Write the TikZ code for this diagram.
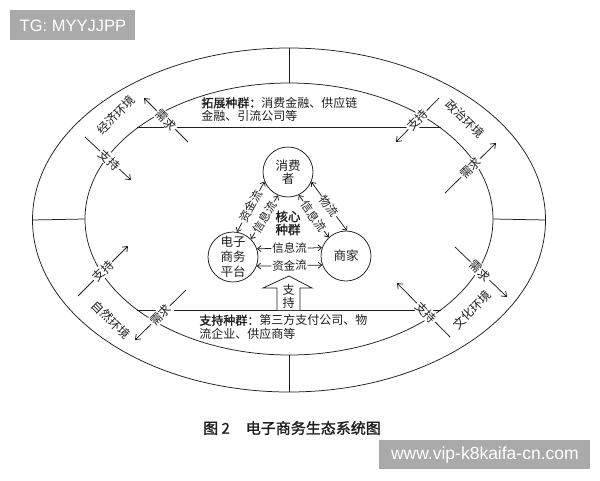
\documentclass[tikz,border=0pt]{standalone}
\usepackage{fontspec}
\setmainfont{Liberation Sans}
\newfontfamily\cjk[AutoFakeBold=1.5]{Noto Sans CJK SC}
\usetikzlibrary{arrows.meta,shapes.geometric}
\definecolor{wmgray}{RGB}{170,170,170}
\definecolor{ink}{RGB}{30,30,30}
\begin{document}
\begin{tikzpicture}[x=1pt,y=-1pt, line width=0.75pt, draw=ink, text=ink,
  every node/.style={font=\cjk\fontsize{12}{13.5}\selectfont, inner sep=0pt},
  ring/.style={draw, ellipse, inner sep=0pt},
  actor/.style={draw, circle, minimum size=50pt, align=center},
  flow/.style={{Straight Barb[length=3.5pt,width=6pt]}-{Straight Barb[length=3.5pt,width=6pt]}},
  flowlabel/.style={sloped, fill=white, inner sep=0.8pt, font=\cjk\fontsize{11.5}{12}\selectfont},
  envarrow/.style={-{Straight Barb[length=4.5pt,width=7pt]}},
  envlabel/.style={sloped, fill=white, inner sep=1pt, font=\cjk\fontsize{12}{13}\selectfont},
  envname/.style={font=\cjk\fontsize{12}{13}\selectfont},
  wm/.style={fill=wmgray, text=white, inner sep=0pt, anchor=north west}
]
\useasboundingbox (0,0) rectangle (600,480);

% watermarks
\node[wm, minimum width=125pt, minimum height=30pt, font=\fontsize{16.5}{18}\selectfont] (wm1) at (10,10) {TG: MYYJJPP};
\node[wm, minimum width=211pt, minimum height=29pt, font=\fontsize{17.5}{19}\selectfont] (wm2) at (379,440) {www.vip-k8kaifa-cn.com};

% rings
\node[ring, minimum width=513pt, minimum height=344pt] (outer) at (289,220) {};
\node[ring, minimum width=408pt, minimum height=272pt] (inner) at (289,219) {};
\draw (outer.north) -- (inner.north);
\draw (outer.south) -- (inner.south);
\draw (outer.west) -- (inner.west);
\draw (outer.east) -- (inner.east);
\draw (inner.149) -- (inner.31);
\draw (inner.211) -- (inner.-31);

% population texts
\node[anchor=west, align=left] (ext) at (201,109.5) {\textbf{拓展种群：}消费金融、供应链\\金融、引流公司等};
\node[anchor=west, align=left] (sup) at (199,327) {\textbf{支持种群：}第三方支付公司、物\\流企业、供应商等};

% core
\node[align=center, font=\cjk\bfseries\fontsize{12.5}{13}\selectfont] (core) at (288,223) {核心\\种群};
\node[actor, font=\cjk\fontsize{12.5}{13.5}\selectfont] (cons) at (288,172) {消费\\者};
\node[actor, font=\cjk\fontsize{12.5}{15}\selectfont] (plat) at (233,257) {电子\\商务\\平台};
\node[actor, font=\cjk\fontsize{12.5}{13}\selectfont] (merch) at (346,256) {商家};

\draw[flow] (cons.202) -- node[flowlabel]{资金流} (plat.81);
\draw[flow] (cons.247) -- node[flowlabel]{信息流} (plat.45);
\draw[flow] (cons.295) -- node[flowlabel]{信息流} (merch.133);
\draw[flow] (cons.337) -- node[flowlabel]{物流} (merch.88);
\draw[flow] (plat.19) -- node[flowlabel]{信息流} (merch.161);
\draw[flow] (plat.-21) -- node[flowlabel]{资金流} (merch.201);

% support block arrow
\draw[fill=white] (277,310) -- (277,288) -- (263,288) -- (289,276) -- (312,288) -- (300,288) -- (300,310);
\node[align=center, font=\cjk\fontsize{12}{13}\selectfont] (supp) at (288.5,296) {支\\持};

% economic environment (top-left)
\coordinate (e1a) at (188,142); \coordinate (e1b) at (144,98);
\draw[envarrow] (e1a) -- node[envlabel, pos=0.5]{需求} (e1b);
\coordinate (e2a) at (85,137); \coordinate (e2b) at (131,180);
\draw[envarrow] (e2a) -- node[envlabel, pos=0.54]{支持} (e2b);
\node[envname, rotate=45] (econ) at (116,115) {经济环境};

% political environment (top-right)
\coordinate (p1a) at (439,98); \coordinate (p1b) at (396,142);
\draw[envarrow] (p1a) -- node[envlabel, pos=0.5]{支持} (p1b);
\coordinate (p2a) at (445,193); \coordinate (p2b) at (496,143);
\draw[envarrow] (p2a) -- node[envlabel, pos=0.5]{需求} (p2b);
\node[envname, rotate=-45] (poli) at (465,119) {政治环境};

% natural environment (bottom-left)
\coordinate (n1a) at (78,296); \coordinate (n1b) at (128,246);
\draw[envarrow] (n1a) -- node[envlabel, pos=0.5]{支持} (n1b);
\coordinate (n2a) at (186,290); \coordinate (n2b) at (135,340);
\draw[envarrow] (n2a) -- node[envlabel, pos=0.5]{需求} (n2b);
\node[envname, rotate=-45] (natu) at (111,320) {自然环境};

% cultural environment (bottom-right)
\coordinate (c1a) at (455,247); \coordinate (c1b) at (507,297);
\draw[envarrow] (c1a) -- node[envlabel, pos=0.48]{需求} (c1b);
\coordinate (c2a) at (450,337); \coordinate (c2b) at (397,283);
\draw[envarrow] (c2a) -- node[envlabel, pos=0.45]{支持} (c2b);
\node[envname, rotate=45] (cult) at (472,310) {文化环境};

% caption
\node[font=\cjk\bfseries\fontsize{15}{16}\selectfont] (cap) at (292,428) {图 2\hspace{16pt}电子商务生态系统图};
\end{tikzpicture}
\end{document}
